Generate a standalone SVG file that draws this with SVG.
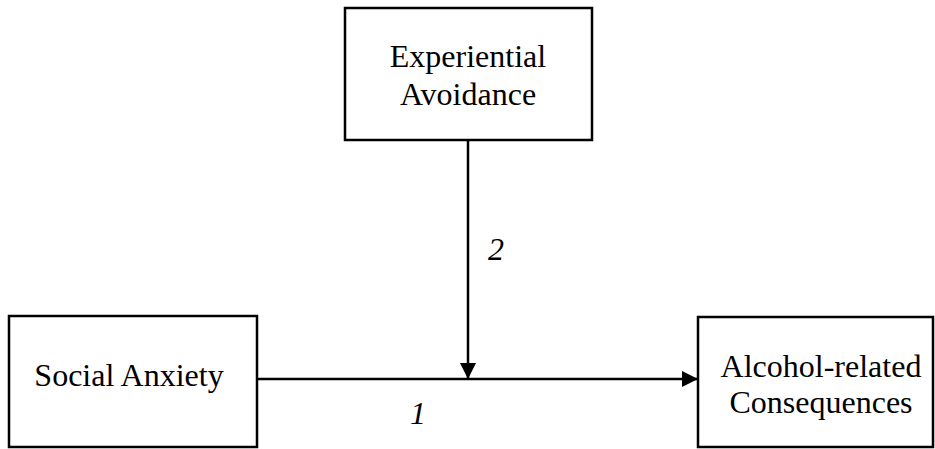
<svg xmlns="http://www.w3.org/2000/svg" width="935" height="449" viewBox="0 0 935 449">
<style>
.box{fill:#fff;stroke:#000;stroke-width:2.5}
.t{font-family:"Liberation Serif","Times New Roman",serif;font-size:32px;fill:#000;text-anchor:middle}
.n{font-family:"Liberation Serif","Times New Roman",serif;font-size:32px;font-style:italic;fill:#000;text-anchor:middle}
.ln{stroke:#000;stroke-width:2.5;fill:none}
</style>
<defs>
<marker id="ah" markerWidth="16" markerHeight="16" refX="16" refY="8" orient="auto" markerUnits="userSpaceOnUse">
<path d="M0,0 L16,8 L0,16 Z" fill="#000"/>
</marker>
</defs>
<rect width="935" height="449" fill="#fff"/>
<g id="experiential-avoidance">
<rect class="box" x="345" y="8" width="247" height="132"/>
<text class="t" x="468" y="67">Experiential</text>
<text class="t" x="468" y="105">Avoidance</text>
</g>
<g id="social-anxiety">
<rect class="box" x="9" y="316" width="248" height="131"/>
<text class="t" x="129" y="386">Social Anxiety</text>
</g>
<g id="alcohol-consequences">
<rect class="box" x="698" y="317" width="235" height="130"/>
<text class="t" x="821" y="377">Alcohol-related</text>
<text class="t" x="821" y="413">Consequences</text>
</g>
<g id="connectors">
<line class="ln" x1="257" y1="379" x2="698" y2="379" marker-end="url(#ah)"/>
<line class="ln" x1="468" y1="140" x2="468" y2="379" marker-end="url(#ah)"/>
<text class="n" x="496" y="260">2</text>
<text class="n" x="418" y="424">1</text>
</g>
</svg>
